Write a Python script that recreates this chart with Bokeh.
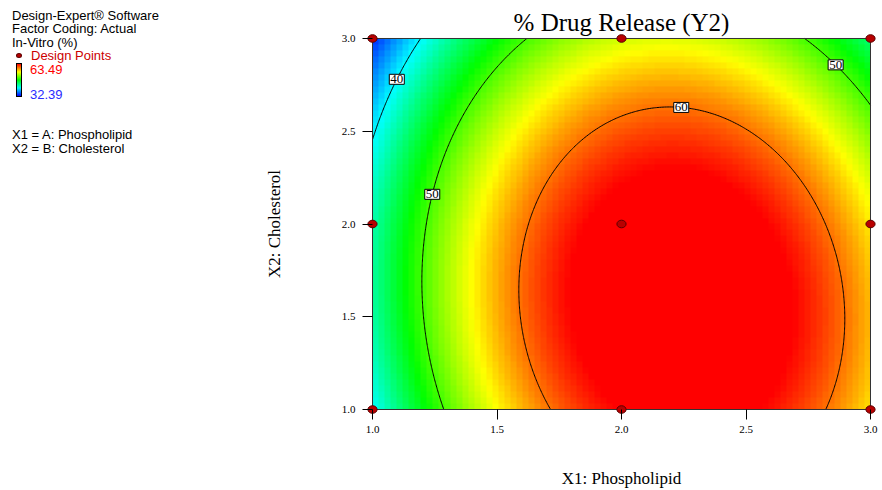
import numpy as np
from bokeh.plotting import figure
from bokeh.plotting.contour import contour_data
from bokeh.models import (LinearColorMapper, FixedTicker, PrintfTickFormatter, Label,
                          Range1d, Div)
from bokeh.layouts import row
from bokeh.embed import file_html
from bokeh.resources import INLINE

# ---- design points: factor levels (actual units) and measured response ----
phospholipid = [1, 2, 3, 1, 2, 3, 1, 2, 3]
cholesterol = [1, 1, 1, 2, 2, 2, 3, 3, 3]
drug_release = [39.75, 63.33, 57.17, 44.40, 63.49, 55.66, 32.39, 55.63, 44.33]

contour_levels = [40, 50, 60]
x_ticks = [1.0, 1.5, 2.0, 2.5, 3.0]
y_ticks = [1.0, 1.5, 2.0, 2.5, 3.0]

title_text = "% Drug Release (Y2)"
x_title = "X1: Phospholipid"
y_title = "X2: Cholesterol"
info_lines = ["Design-Expert\u00ae Software", "Factor Coding: Actual", "In-Vitro (%)"]
factor_lines = ["X1 = A: Phospholipid", "X2 = B: Cholesterol"]

# contour label anchor positions (label is snapped onto the nearest contour point)
label_levels = [40, 50, 60, 50]
label_anchor_x = [1.084, 1.233, 2.245, 2.871]
label_anchor_y = [2.79, 2.161, 2.667, 2.871]

SERIF = "Liberation Serif"
SANS = "Liberation Sans"

# ---- quadratic response-surface model fitted in coded units ----
A = np.array(phospholipid, float) - 2.0
B = np.array(cholesterol, float) - 2.0
Y = np.array(drug_release, float)


def terms(a, b):
    a = np.asarray(a, float)
    b = np.asarray(b, float)
    return np.stack([np.ones_like(a), a, b, a * b, a * a, b * b], axis=-1)


coef, *_ = np.linalg.lstsq(terms(A, B), Y, rcond=None)


def predict(x, y):
    return terms(np.asarray(x) - 2.0, np.asarray(y) - 2.0) @ coef


y_lo, y_hi = min(drug_release), max(drug_release)


# blue -> cyan -> green -> yellow -> red ramp
def ramp(n=256):
    stops = [(0, 0, 255), (0, 255, 255), (0, 255, 0), (255, 255, 0), (255, 0, 0)]
    out = []
    for k in range(n):
        t = k / (n - 1) * 4
        i = min(int(t), 3)
        f = t - i
        c = [int(round(stops[i][j] + (stops[i + 1][j] - stops[i][j]) * f)) for j in range(3)]
        out.append("#%02x%02x%02x" % tuple(c))
    return out


palette = ramp()
mapper = LinearColorMapper(palette=palette, low=y_lo, high=y_hi,
                           low_color=palette[0], high_color=palette[-1])

# ---- geometry of the plotting area ----
x0, x1 = x_ticks[0], x_ticks[-1]
y0, y1 = y_ticks[0], y_ticks[-1]
AW, AH = 498, 372          # pixel size of the coloured area
PAD_X, PAD_Y = 6, 5        # small white margin so edge markers stay whole
sx, sy = AW / (x1 - x0), AH / (y1 - y0)
LEFT_PANEL = 250

p = figure(width=882 - LEFT_PANEL, height=490,
           x_range=Range1d(x0 - PAD_X / sx, x1 + PAD_X / sx),
           y_range=Range1d(y0 - PAD_Y / sy, y1 + PAD_Y / sy),
           output_backend="svg", toolbar_location=None,
           min_border_left=372 - PAD_X - LEFT_PANEL, min_border_right=12 - PAD_X,
           min_border_top=38 - PAD_Y, min_border_bottom=80 - PAD_Y)
p.xgrid.visible = False
p.ygrid.visible = False
p.outline_line_color = None
p.background_fill_color = "white"
p.border_fill_color = "white"

# blocky colour field: coarse cells, each blown up to exact screen pixels
nx, ny, cell = 83, 62, 6
xc = x0 + (np.arange(nx) + 0.5) * (x1 - x0) / nx
yc = y0 + (np.arange(ny) + 0.5) * (y1 - y0) / ny
XC, YC = np.meshgrid(xc, yc)
Z = predict(XC, YC)
Zimg = np.repeat(np.repeat(Z, cell, axis=0), cell, axis=1)
p.image(image=[Zimg], x=x0, y=y0, dw=x1 - x0, dh=y1 - y0, color_mapper=mapper)

# contour lines
gx = np.linspace(x0, x1, 301)
gy = np.linspace(y0, y1, 301)
GX, GY = np.meshgrid(gx, gy)
GZ = predict(GX, GY)
cd = contour_data(GX, GY, GZ, contour_levels, want_fill=False, want_line=True)
ld = cd.line_data
p.multi_line(xs=[np.asarray(v) for v in ld.xs], ys=[np.asarray(v) for v in ld.ys],
             line_color="black", line_width=1)

# frame around the coloured area
p.quad(left=[x0], right=[x1], bottom=[y0], top=[y1], fill_color=None,
       line_color="#333333", line_width=1)

# contour labels
for lev, ax_, ay_ in zip(label_levels, label_anchor_x, label_anchor_y):
    idx = list(contour_levels).index(lev)
    xs_ = np.asarray(ld.xs[idx], float)
    ys_ = np.asarray(ld.ys[idx], float)
    d = ((xs_ - ax_) * sx) ** 2 + ((ys_ - ay_) * sy) ** 2
    k = int(np.nanargmin(d))
    p.add_layout(Label(x=float(xs_[k]), y=float(ys_[k]), text=str(lev),
                       text_align="center", text_baseline="middle",
                       text_font=SERIF, text_font_size="13px", text_color="black",
                       background_fill_color="white", border_line_color="black",
                       border_line_width=1, padding=1))

# design points
p.ellipse(x=phospholipid, y=cholesterol, width=9.2, height=7.6,
          width_units="screen", height_units="screen",
          fill_color="#b80000", line_color="#5c0000", line_width=1)

# axes
for ax, ticks in ((p.xaxis, x_ticks), (p.yaxis, y_ticks)):
    ax.ticker = FixedTicker(ticks=ticks)
    ax.formatter = PrintfTickFormatter(format="%.1f")
    ax.major_label_text_font = SERIF
    ax.major_label_text_font_size = "11px"
    ax.major_label_text_color = "black"
    ax.major_tick_line_color = "black"
    ax.minor_tick_line_color = None
    ax.axis_line_color = None
    ax.axis_label_text_font = SERIF
    ax.axis_label_text_font_size = "17px"
    ax.axis_label_text_font_style = "normal"
    ax.axis_label_text_color = "black"
p.xaxis.major_tick_in = PAD_Y
p.xaxis.major_tick_out = 10 - PAD_Y
p.yaxis.major_tick_in = PAD_X
p.yaxis.major_tick_out = 10 - PAD_X
p.xaxis.major_label_standoff = 6
p.yaxis.major_label_standoff = 7
p.xaxis.axis_label = x_title
p.yaxis.axis_label = y_title
p.xaxis.axis_label_standoff = 33
p.yaxis.axis_label_standoff = 55

p.title.text = title_text
p.title.align = "center"
p.title.text_font = SERIF
p.title.text_font_size = "25px"
p.title.text_font_style = "normal"
p.title.text_color = "black"
p.title.standoff = -4


# ---- left information panel ----
def line_div(text, left, cy, color="black", size=13):
    return ('<div style="position:absolute;left:%dpx;top:%.1fpx;white-space:nowrap;'
            'color:%s;font-size:%dpx;line-height:%dpx">%s</div>'
            % (left, cy - size / 2.0, color, size, size, text))


parts = []
for t, cy in zip(info_lines, [15, 28.5, 42]):
    parts.append(line_div(t, 12, cy))
parts.append('<div style="position:absolute;left:16px;top:53px;width:6px;height:5px;'
             'border-radius:50%;background:#b80000;border:0.5px solid #5c0000"></div>')
parts.append(line_div("Design Points", 31, 55.5, "#cc0000"))
grad = ",".join(palette[::-1][::32] + [palette[0]])
parts.append('<div style="position:absolute;left:16px;top:63px;width:6px;height:34px;'
             'border:1px solid black;background:linear-gradient(to bottom,%s)"></div>' % grad)
parts.append(line_div("%.2f" % y_hi, 30, 69, "#ff0000"))
parts.append(line_div("%.2f" % y_lo, 30, 94, "#2a2aff"))
for t, cy in zip(factor_lines, [134, 148]):
    parts.append(line_div(t, 12, cy))

info = Div(text='<div style="position:relative;width:%dpx;height:490px;'
                "font-family:'%s',Arial,sans-serif\">%s</div>" % (LEFT_PANEL, SANS, "".join(parts)),
           width=LEFT_PANEL, height=490, margin=0)

layout = row(info, p)
open("out.html", "w").write(file_html(layout, INLINE))
